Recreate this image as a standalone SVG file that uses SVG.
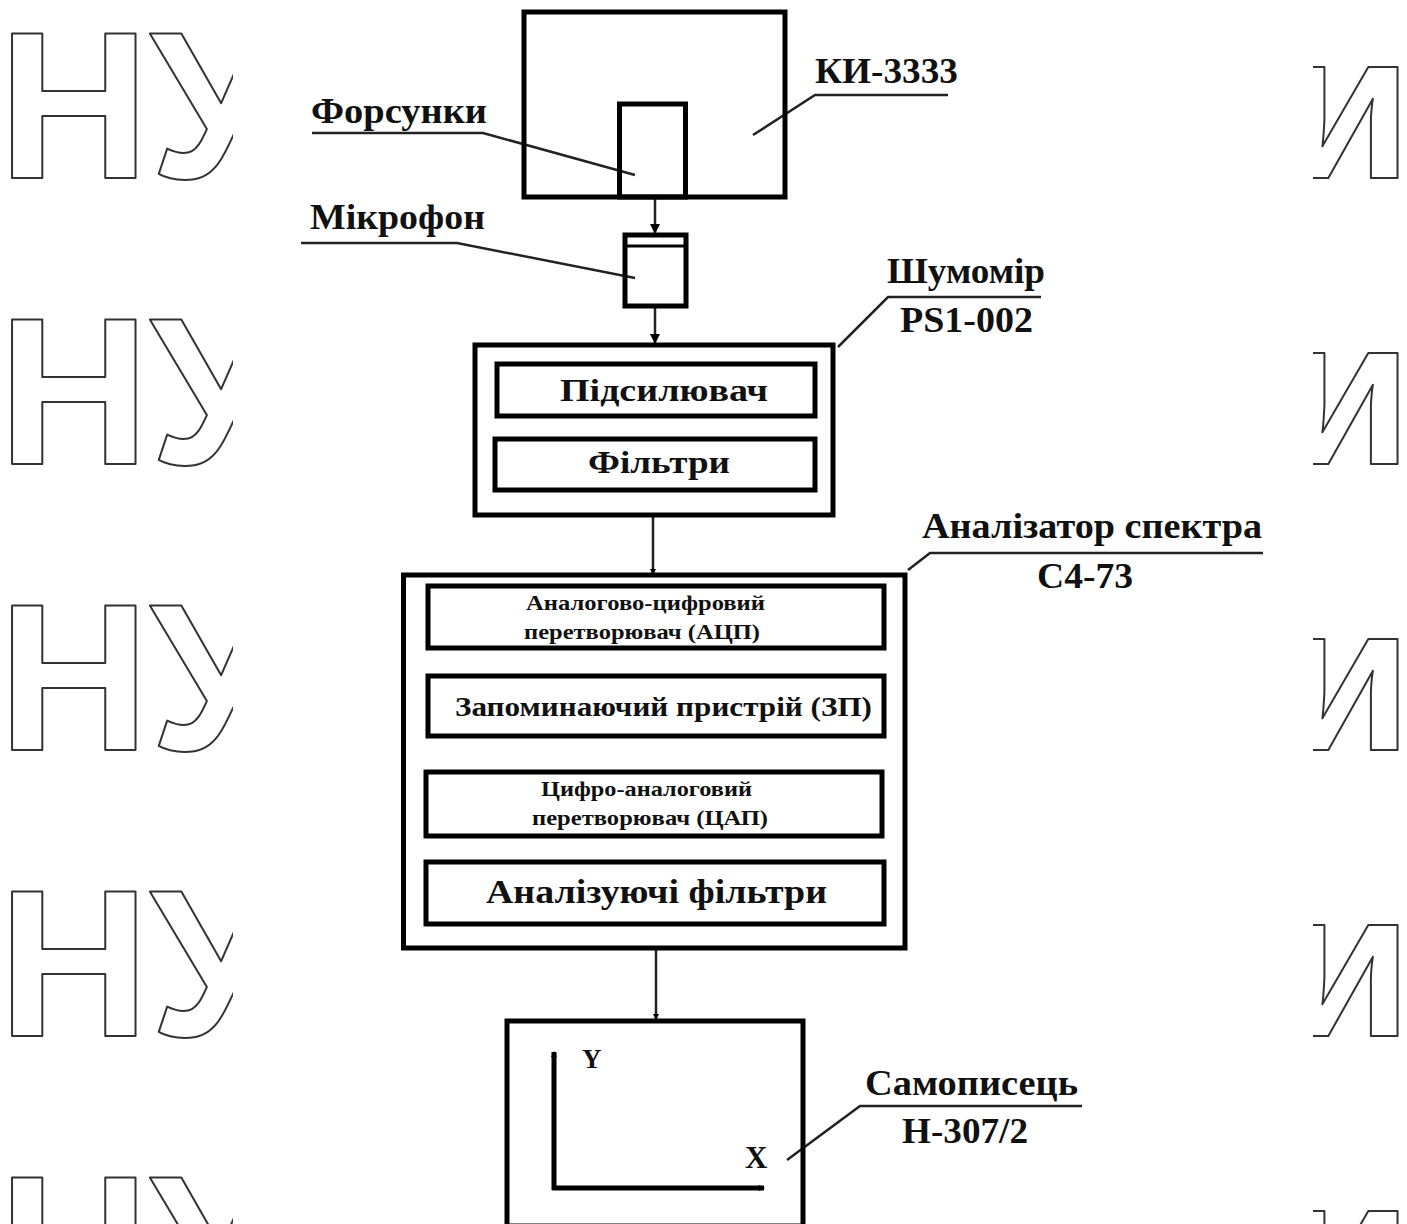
<svg xmlns="http://www.w3.org/2000/svg" width="1407" height="1224" viewBox="0 0 1407 1224">
<style>
.box{fill:none;stroke:#000;stroke-width:5}
.ln{fill:none;stroke:#222;stroke-width:2.5}
.ax{fill:none;stroke:#000;stroke-width:5}
.t{font-family:"Liberation Serif","Times New Roman",serif;font-weight:bold;fill:#111}
.lbl{font-size:36px}
.wm{font-family:"Liberation Sans",Arial,sans-serif;font-weight:bold;font-size:210px;fill:none;stroke:#333;stroke-width:2;stroke-linejoin:round}
</style>
<defs>
<marker id="ah" markerWidth="10" markerHeight="10" refX="9" refY="5" orient="auto" markerUnits="userSpaceOnUse">
<path d="M0,0 L10,5 L0,10 Z" fill="#000"/>
</marker>
<marker id="ahs" markerWidth="6" markerHeight="6" refX="5" refY="3" orient="auto" markerUnits="userSpaceOnUse">
<path d="M0,0 L6,3 L0,6 Z" fill="#000"/>
</marker>
<clipPath id="cl"><rect x="0" y="0" width="233" height="1224"/></clipPath>
<clipPath id="cr"><rect x="1313" y="0" width="94" height="1224"/></clipPath>
</defs>
<rect width="1407" height="1224" fill="#fff"/>

<g id="watermark">
<g clip-path="url(#cl)" class="wm">
<text x="-2" y="178">НУ</text>
<text x="-2" y="464">НУ</text>
<text x="-2" y="750">НУ</text>
<text x="-2" y="1036">НУ</text>
<text x="-2" y="1322">НУ</text>
</g>
<g clip-path="url(#cr)" class="wm">
<text x="1283" y="178">и</text>
<text x="1283" y="464">и</text>
<text x="1283" y="750">и</text>
<text x="1283" y="1036">и</text>
<text x="1283" y="1322">и</text>
</g>
</g>

<g id="connectors">
<line x1="655" y1="199" x2="655" y2="233" class="ln" stroke-width="3" marker-end="url(#ah)"/>
<line x1="655" y1="308" x2="655" y2="343" class="ln" stroke-width="3" marker-end="url(#ah)"/>
<line x1="653" y1="517" x2="653" y2="574" class="ln" stroke-width="3" marker-end="url(#ahs)"/>
<line x1="656" y1="950" x2="656" y2="1019" class="ln" stroke-width="3" marker-end="url(#ahs)"/>
<polyline points="312,133 483,133 635,175" class="ln"/>
<polyline points="301,243 457,243 635,278" class="ln"/>
<polyline points="753,135 815,95 948,95" class="ln"/>
<polyline points="838,347 888,297 1041,297" class="ln"/>
<polyline points="908,570 930,553 1263,553" class="ln"/>
<polyline points="787,1160 860,1106 1082,1106" class="ln"/>
</g>

<g id="ki3333">
<rect x="524" y="12" width="261" height="185" class="box"/>
<text x="815" y="83" class="t lbl" textLength="143" lengthAdjust="spacingAndGlyphs">КИ-3333</text>
</g>

<g id="forsunky">
<rect x="619.5" y="104" width="66" height="93" class="box"/>
<text x="311" y="123" class="t lbl" textLength="176" lengthAdjust="spacingAndGlyphs">Форсунки</text>
</g>

<g id="mikrofon">
<rect x="625" y="235" width="61" height="71" class="box" stroke-width="4"/>
<line x1="625" y1="246" x2="686" y2="246" stroke="#000" stroke-width="3"/>
<text x="310" y="229" class="t lbl" textLength="175" lengthAdjust="spacingAndGlyphs">Мікрофон</text>
</g>

<g id="shumomir">
<rect x="475" y="345" width="358" height="170" class="box"/>
<text x="887" y="283" class="t lbl" textLength="158" lengthAdjust="spacingAndGlyphs">Шумомір</text>
<text x="900" y="332" class="t lbl" textLength="133" lengthAdjust="spacingAndGlyphs">PS1-002</text>
</g>

<g id="pidsyluvach">
<rect x="497" y="364" width="318" height="52" class="box"/>
<text x="560" y="401" class="t" font-size="31" textLength="208" lengthAdjust="spacingAndGlyphs">Підсилювач</text>
</g>

<g id="filtry">
<rect x="495" y="439" width="320" height="51" class="box"/>
<text x="588" y="473" class="t" font-size="31" textLength="142" lengthAdjust="spacingAndGlyphs">Фільтри</text>
</g>

<g id="analyzer">
<rect x="403.5" y="575" width="501.5" height="373" class="box"/>
<text x="922" y="538" class="t lbl" textLength="340" lengthAdjust="spacingAndGlyphs">Аналізатор спектра</text>
<text x="1037" y="588" class="t lbl" textLength="96" lengthAdjust="spacingAndGlyphs">С4-73</text>
</g>

<g id="acp">
<rect x="428" y="586" width="456" height="62" class="box"/>
<text x="526" y="610" class="t" font-size="22" textLength="239" lengthAdjust="spacingAndGlyphs">Аналогово-цифровий</text>
<text x="524" y="639" class="t" font-size="22" textLength="236" lengthAdjust="spacingAndGlyphs">перетворювач (АЦП)</text>
</g>

<g id="zp">
<rect x="428" y="676" width="456" height="60" class="box"/>
<text x="455" y="716" class="t" font-size="28" textLength="417" lengthAdjust="spacingAndGlyphs">Запоминаючий пристрій (ЗП)</text>
</g>

<g id="cap">
<rect x="426" y="772" width="456" height="64" class="box"/>
<text x="541" y="796" class="t" font-size="22" textLength="211" lengthAdjust="spacingAndGlyphs">Цифро-аналоговий</text>
<text x="532" y="825" class="t" font-size="22" textLength="236" lengthAdjust="spacingAndGlyphs">перетворювач (ЦАП)</text>
</g>

<g id="analiz-filtry">
<rect x="426" y="862" width="458" height="62" class="box"/>
<text x="486" y="903" class="t" font-size="34" textLength="341" lengthAdjust="spacingAndGlyphs">Аналізуючі фільтри</text>
</g>

<g id="samopysets">
<rect x="507" y="1021" width="296" height="205" class="box"/>
<line x1="554" y1="1190" x2="554" y2="1052" class="ax" marker-end="url(#ahs)"/>
<line x1="552" y1="1188" x2="764" y2="1188" class="ax" marker-end="url(#ahs)"/>
<text x="582" y="1068" class="t" font-size="27">Y</text>
<text x="745" y="1168" class="t" font-size="31">X</text>
<text x="865" y="1095" class="t lbl" textLength="213" lengthAdjust="spacingAndGlyphs">Самописець</text>
<text x="902" y="1143" class="t lbl" textLength="126" lengthAdjust="spacingAndGlyphs">Н-307/2</text>
</g>
</svg>
